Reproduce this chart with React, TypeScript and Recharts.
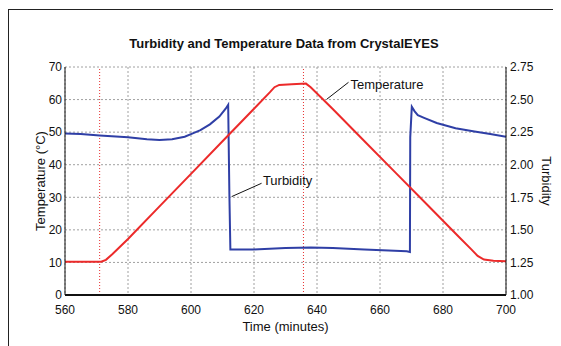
import React from "react";
import {
  LineChart,
  Line,
  XAxis,
  YAxis,
  CartesianGrid,
  ReferenceLine,
  ReferenceDot,
  Label,
} from "recharts";

// turbidity trace (minutes, NTU-ish units)
const turbTime = [
  560, 565, 571, 580, 586, 590, 594, 598, 600, 603, 606, 609, 611, 611.8,
  612.2, 612.5, 620, 630, 638, 645, 655, 668.5, 669.5, 669.6, 670.1, 671,
  672, 674, 678, 684, 690, 695, 700,
];
const turbValues = [
  2.24, 2.235, 2.225, 2.21, 2.195, 2.19, 2.195, 2.215, 2.235, 2.265, 2.31,
  2.37, 2.43, 2.46, 1.75, 1.35, 1.35, 1.36, 1.365, 1.36, 1.35, 1.335, 1.33,
  2.21, 2.445, 2.41, 2.38, 2.36, 2.32, 2.28, 2.255, 2.235, 2.215,
];

// temperature trace (minutes, °C)
const tempTime = [
  560, 565, 571.5, 573, 575, 580, 590, 600, 610, 620, 625, 626.5, 628, 632,
  636.5, 638, 645, 655, 665, 675, 685, 689, 691, 693, 696, 700,
];
const tempValues = [
  10.2, 10.2, 10.2, 10.8, 12.5, 17.2, 27.2, 37.2, 47.2, 57.2, 62.2, 63.8,
  64.5, 64.7, 64.9, 63.8, 57.1, 47.3, 37.5, 27.7, 17.9, 14.0, 12.0, 10.9,
  10.5, 10.4,
];

const timeTicks = [560, 580, 600, 620, 640, 660, 680, 700];
const tempTicks = [0, 10, 20, 30, 40, 50, 60, 70];
const turbTicks = [1, 1.25, 1.5, 1.75, 2, 2.25, 2.5, 2.75];
const markerTimes = [571, 635.7];

const turbData = turbTime.map((t, i) => ({ t, turbidity: turbValues[i] }));
const tempData = tempTime.map((t, i) => ({ t, temperature: tempValues[i] }));

const font = "'Liberation Sans', Arial, sans-serif";
const tickStyle = { fontSize: 12, fill: "#111", fontFamily: font };
const labelStyle = { fontSize: 13, fill: "#111", fontFamily: font };

const App = () => {
  return (
    <div
      style={{
        position: "relative",
        width: 553,
        height: 338,
        overflow: "hidden",
        fontFamily: font,
      }}
    >
      <div
        style={{
          position: "absolute",
          left: 0,
          top: 1,
          width: 700,
          height: 500,
          borderTop: "1.5px solid #222",
          borderLeft: "1.5px solid #222",
        }}
      />
      <div
        style={{
          position: "absolute",
          top: 28,
          left: 0,
          width: 552,
          textAlign: "center",
          fontSize: 13,
          fontWeight: "bold",
          lineHeight: "16px",
          color: "#111",
        }}
      >
        Turbidity and Temperature Data from CrystalEYES
      </div>
      <div style={{ position: "absolute", left: 0, top: 0 }}>
        <LineChart
          width={553}
          height={338}
          margin={{ top: 59, right: 10, left: 20, bottom: 20 }}
        >
          <CartesianGrid
            yAxisId="left"
            stroke="#a0a0a0"
            strokeDasharray="2 2"
          />
          <XAxis
            dataKey="t"
            type="number"
            domain={[560, 700]}
            ticks={timeTicks}
            allowDataOverflow
            height={31}
            stroke="#111"
            tickLine={false}
            tickSize={4}
            tickMargin={6}
            tick={tickStyle}
            axisLine={{ stroke: "#111", strokeWidth: 2 }}
          >
            <Label
              value="Time (minutes)"
              position="insideBottom"
              offset={-5}
              style={labelStyle}
            />
          </XAxis>
          <YAxis
            yAxisId="left"
            domain={[0, 70]}
            ticks={tempTicks}
            width={37}
            stroke="#111"
            tickLine={false}
            tickSize={0}
            tickMargin={3}
            tick={tickStyle}
            axisLine={{ stroke: "#111" }}
          >
            <Label
              value="Temperature (°C)"
              angle={-90}
              position="insideLeft"
              offset={12}
              style={{ ...labelStyle, textAnchor: "middle" }}
            />
          </YAxis>
          <YAxis
            yAxisId="right"
            orientation="right"
            domain={[1, 2.75]}
            ticks={turbTicks}
            width={45}
            stroke="#111"
            tickLine={false}
            tickSize={0}
            tickMargin={4}
            tick={tickStyle}
            tickFormatter={(v: number) => v.toFixed(2)}
            axisLine={{ stroke: "#111" }}
          >
            <Label
              value="Turbidity"
              angle={90}
              position="insideRight"
              offset={4}
              style={{ ...labelStyle, textAnchor: "middle" }}
            />
          </YAxis>
          {markerTimes.map((m) => (
            <ReferenceLine
              key={m}
              yAxisId="left"
              x={m}
              stroke="#e83030"
              strokeDasharray="1 2"
            />
          ))}
          <Line
            yAxisId="right"
            data={turbData}
            dataKey="turbidity"
            type="linear"
            stroke="#2f3fa6"
            strokeWidth={2}
            dot={false}
            isAnimationActive={false}
          />
          <Line
            yAxisId="left"
            data={tempData}
            dataKey="temperature"
            type="linear"
            stroke="#ec2a2a"
            strokeWidth={2}
            dot={false}
            isAnimationActive={false}
          />
          <ReferenceLine
            yAxisId="left"
            segment={[
              { x: 643.1, y: 60.1 },
              { x: 650.0, y: 65.3 },
            ]}
            stroke="#111"
          />
          <ReferenceDot
            yAxisId="left"
            x={650.3}
            y={64.8}
            r={0}
            stroke="none"
            label={{
              value: "Temperature",
              position: "right",
              offset: 1,
              style: labelStyle,
            }}
          />
          <ReferenceLine
            yAxisId="left"
            segment={[
              { x: 612.9, y: 30.2 },
              { x: 622.4, y: 34.3 },
            ]}
            stroke="#111"
          />
          <ReferenceDot
            yAxisId="left"
            x={622.5}
            y={35.3}
            r={0}
            stroke="none"
            label={{
              value: "Turbidity",
              position: "right",
              offset: 1,
              style: labelStyle,
            }}
          />
        </LineChart>
      </div>
    </div>
  );
};

export default App;
